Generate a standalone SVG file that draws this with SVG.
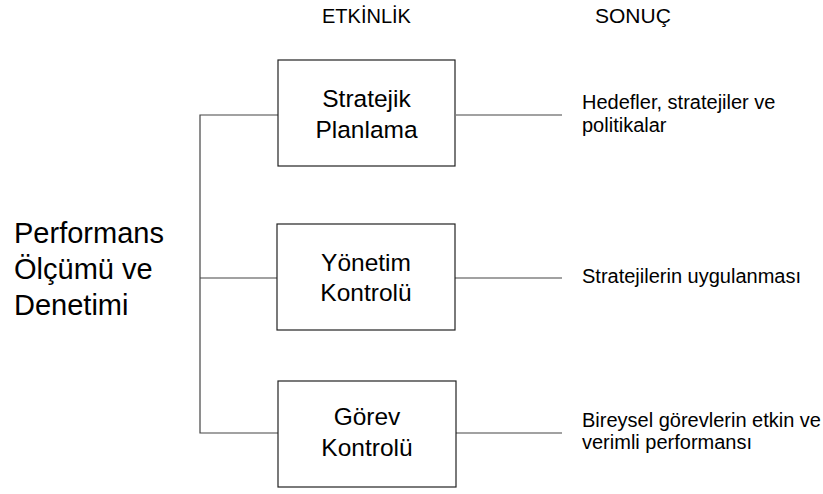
<svg xmlns="http://www.w3.org/2000/svg" width="823" height="494" viewBox="0 0 823 494">
  <style>
    text { font-family: "Liberation Sans", Arial, sans-serif; fill: #000; }
    .head { font-size: 20px; }
    .box rect { fill: #fff; stroke: #222; stroke-width: 1.2; }
    .box text { font-size: 24.5px; text-anchor: middle; }
    .result { font-size: 20px; }
    .title { font-size: 29px; }
    .links line, .links polyline { stroke: #444; stroke-width: 1.2; fill: none; }
  </style>

  <!-- column headings -->
  <text class="head" x="322" y="23">ETKİNLİK</text>
  <text class="head" x="595" y="23" style="font-size:21px">SONUÇ</text>

  <!-- root label -->
  <g id="root">
    <text class="title" x="14" y="243">Performans</text>
    <text class="title" x="14" y="279">Ölçümü ve</text>
    <text class="title" x="14" y="315">Denetimi</text>
  </g>

  <!-- connectors -->
  <g class="links" id="connectors">
    <polyline points="278,115 200,115 200,433 278,433"/>
    <line x1="200" y1="278" x2="277" y2="278"/>
    <line x1="456" y1="115" x2="562" y2="115"/>
    <line x1="455" y1="278" x2="562" y2="278"/>
    <line x1="456" y1="433" x2="562" y2="433"/>
  </g>

  <!-- activity boxes -->
  <g class="box" id="stratejik-planlama">
    <rect x="278" y="60" width="177" height="106"/>
    <text x="366.5" y="106.5">Stratejik</text>
    <text x="366.5" y="137.5">Planlama</text>
  </g>
  <g class="box" id="yonetim-kontrolu">
    <rect x="277" y="224" width="178" height="106"/>
    <text x="366" y="271">Yönetim</text>
    <text x="366" y="301">Kontrolü</text>
  </g>
  <g class="box" id="gorev-kontrolu">
    <rect x="278" y="381" width="178" height="106"/>
    <text x="367" y="425">Görev</text>
    <text x="367" y="456">Kontrolü</text>
  </g>

  <!-- results -->
  <g id="sonuc-1">
    <text class="result" x="582" y="109">Hedefler, stratejiler ve</text>
    <text class="result" x="582" y="132">politikalar</text>
  </g>
  <g id="sonuc-2">
    <text class="result" x="582" y="283">Stratejilerin uygulanması</text>
  </g>
  <g id="sonuc-3">
    <text class="result" x="582" y="427">Bireysel görevlerin etkin ve</text>
    <text class="result" x="582" y="449">verimli performansı</text>
  </g>
</svg>
